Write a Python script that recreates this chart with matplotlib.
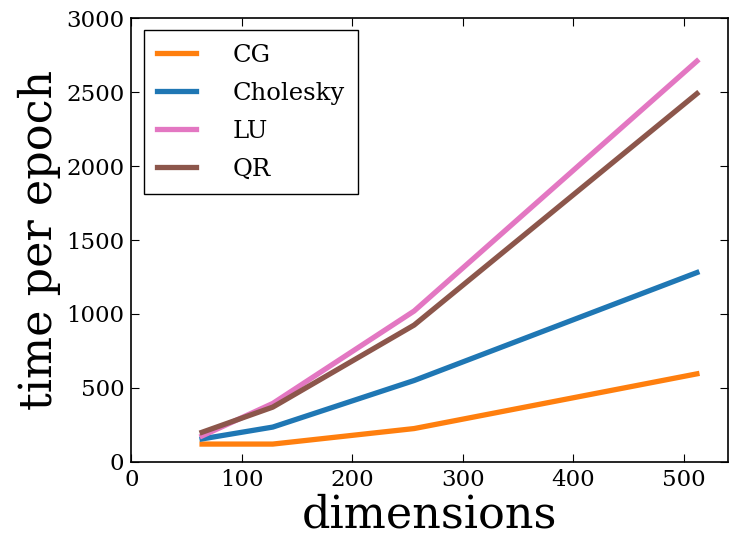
import matplotlib
matplotlib.use('Agg')
import matplotlib.pyplot as plt

dims = [64, 128, 256, 512]
cg = [120, 120, 225, 595]
cholesky = [155, 235, 550, 1280]
lu = [175, 395, 1020, 2710]
qr = [200, 370, 925, 2490]

plt.rcParams['font.family'] = 'DejaVu Serif'

fig = plt.figure(figsize=(7.3, 5.37), dpi=100)
ax = fig.add_axes([0.18, 0.14, 0.817, 0.826])

ax.plot(dims, cg, color='#ff7f0e', lw=3.8, label='CG')
ax.plot(dims, cholesky, color='#1f77b4', lw=3.8, label='Cholesky')
ax.plot(dims, lu, color='#e377c2', lw=3.8, label='LU')
ax.plot(dims, qr, color='#8c564b', lw=3.8, label='QR')

ax.set_xlim(0, 540)
ax.set_ylim(0, 3000)
ax.set_xticks([0, 100, 200, 300, 400, 500])
ax.set_yticks([0, 500, 1000, 1500, 2000, 2500, 3000])
ax.tick_params(direction='in', top=True, right=True, labelsize=16.5, length=6, pad=5)
for s in ax.spines.values():
    s.set_linewidth(1.2)

ax.set_xlabel('dimensions', fontsize=32, labelpad=2)
ax.set_ylabel('time per epoch', fontsize=32, labelpad=4)

leg = ax.legend(loc='upper left', fontsize=17.5, fancybox=False, framealpha=1,
                edgecolor='black', handlelength=1.6, handletextpad=1.5,
                borderpad=0.55, labelspacing=0.62, borderaxespad=0.5)
leg.get_frame().set_linewidth(1.0)

fig.savefig('out.png', dpi=100, facecolor='white')
